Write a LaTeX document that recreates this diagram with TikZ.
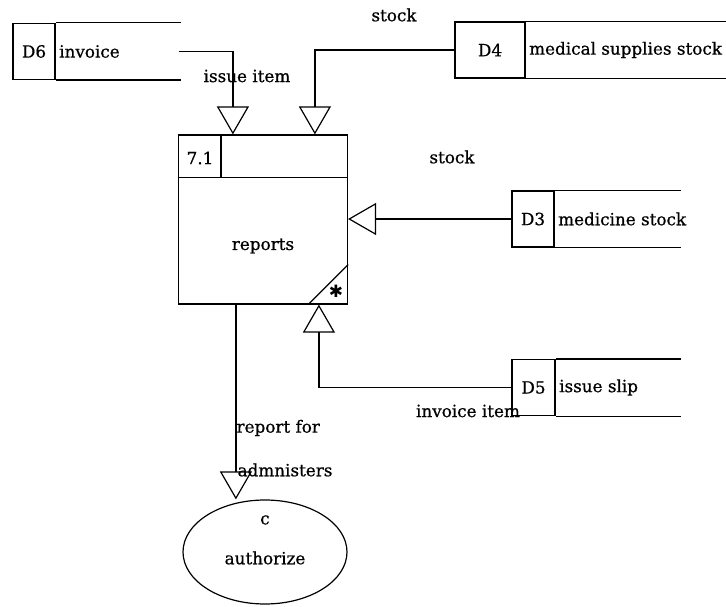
\documentclass[tikz,border=0pt]{standalone}
\usepackage{fontspec}
\setmainfont{DejaVu Serif}[FakeBold=0.7]
\newfontfamily\dingfont{DejaVu Sans}
\usetikzlibrary{arrows.meta, positioning, shapes.geometric, calc}

\begin{document}
\begin{tikzpicture}[
  x=1pt, y=-1pt,
  font=\fontsize{16.8}{19}\selectfont,
  line width=1.2pt,
  storeid/.style={draw, minimum width=#1, minimum height=56, inner sep=0pt},
  storename/.style={anchor=west, inner sep=3pt},
  procbox/.style={draw, minimum width=169, minimum height=169, inner sep=0pt},
  flow/.style={-{Triangle[open, length=28pt, width=32pt]}}
]
\useasboundingbox (0,0) rectangle (726,607);

% data stores
\node[storeid=42] (d6id) at (34,51.5) {D6};
\node[storename] (d6name) at (d6id.east) {invoice};
\draw (d6id.north east) -- ++(125,0) (d6id.south east) -- ++(125,0);

\node[storeid=70] (d4id) at (490,50) {D4};
\node[storename] (d4name) at (d4id.east) {medical supplies stock};
\draw (d4id.north east) -- ++(200,0) (d4id.south east) -- ++(200,0);

\node[storeid=42] (d3id) at (533,219) {D3};
\node[storename] (d3name) at (d3id.east) {medicine stock};
\draw (d3id.north east) -- ++(126,0) (d3id.south east) -- ++(126,0);

\node[storeid=43] (d5id) at (533.5,387.5) {D5};
\node[storename] (d5name) at (d5id.east) {issue slip};
\draw (d5id.north east) -- ++(125,0) (d5id.south east) -- ++(125,0);

% process 7.1
\node[procbox] (proc) at (263,219.5) {};
\draw ($(proc.north west)+(0,43)$) -- ($(proc.north east)+(0,43)$);
\draw ($(proc.north west)+(43,0)$) -- ($(proc.north west)+(43,43)$);
\node (procid) at (200,158) {7.1};
\node (procname) at (263,246) {reports};
\draw ($(proc.south east)+(-40,0)$) -- ($(proc.south east)+(0,-40)$);
\node[inner sep=0pt] (procstar) at (336,291) {\dingfont\fontsize{17}{17}\selectfont ✱};

% external entity
\node[draw, ellipse, minimum width=164, minimum height=104, inner sep=0pt] (auth) at (265,552) {};
\node (authid) at (265,520) {c};
\node (authname) at (265,558) {authorize};

% flows
\coordinate (d6end) at ($(d6id.east)+(123,0)$);
\coordinate (in6) at ($(proc.north west)+(55,0)$);
\coordinate (in4) at ($(proc.north west)+(137,0)$);
\coordinate (in5) at ($(proc.south west)+(141,0)$);
\coordinate (out) at ($(proc.south west)+(58,0)$);
\draw[flow] (d6end) -| (in6);
\draw[flow] (d4id.west) -| (in4);
\draw[flow] (d3id.west) -- (d3id.west -| proc.east);
\draw[flow] (d5id.west) -| (in5);
\draw[flow] (out) -- (out |- auth.north);

% flow labels
\node (lstock4) at (394,15) {stock};
\node (lstock3) at (452,157) {stock};
\node (lissue) at (247,76) {issue item};
\node (linvoice) at (468,411) {invoice item};
\node[anchor=west, inner sep=0pt] (lreport) at (236,428) {report for};
\node[anchor=west, inner sep=0pt] (ladmin) at (237,470) {admnisters};
\end{tikzpicture}
\end{document}
